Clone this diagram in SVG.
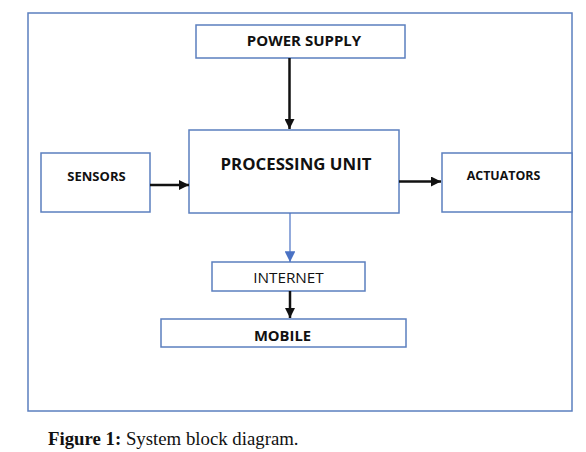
<svg xmlns="http://www.w3.org/2000/svg" width="586" height="452" viewBox="0 0 586 452">
<style>
.box{fill:#fff;stroke:#5b7fbf;stroke-width:1.5}
.lbl{font-family:"Open Sans","Liberation Sans",sans-serif;font-weight:bold;fill:#111;text-anchor:middle}
.blk{stroke:#111;stroke-width:2.5;fill:none}
.blu{stroke:#4a72c4;stroke-width:1.2;fill:none}
</style>
<defs>
<marker id="ah" viewBox="0 0 10 10" refX="10" refY="5" markerWidth="4" markerHeight="4" orient="auto" markerUnits="strokeWidth"><path d="M0,0 L10,5 L0,10 z" fill="#111"/></marker>
<marker id="ahb" viewBox="0 0 10 10" refX="10" refY="5" markerWidth="9" markerHeight="9" orient="auto" markerUnits="strokeWidth"><path d="M0,0 L10,5 L0,10 z" fill="#4a72c4"/></marker>
</defs>
<rect width="586" height="452" fill="#fff"/>
<rect x="28" y="13" width="544" height="398" fill="none" stroke="#5b7fbf" stroke-width="1.5"/>
<g id="power"><rect class="box" x="196" y="25" width="209" height="33"/><text class="lbl" x="304" y="46" font-size="15">POWER SUPPLY</text></g>
<g id="processing"><rect class="box" x="189" y="130" width="210" height="83"/><text class="lbl" x="296" y="170" font-size="16.8">PROCESSING UNIT</text></g>
<g id="sensors"><rect class="box" x="41" y="153" width="109" height="59"/><text class="lbl" x="96.5" y="181" font-size="13">SENSORS</text></g>
<g id="actuators"><rect class="box" x="442" y="153" width="130" height="59"/><text class="lbl" x="503.5" y="180" font-size="12.4">ACTUATORS</text></g>
<g id="internet"><rect class="box" x="212" y="262" width="153" height="29"/><text class="lbl" x="288.5" y="283" font-size="15.3" style="font-weight:normal">INTERNET</text></g>
<g id="mobile"><rect class="box" x="161" y="319" width="245" height="28"/><text class="lbl" x="282.5" y="341" font-size="14.8">MOBILE</text></g>
<g id="connectors">
<line class="blk" x1="289.5" y1="58" x2="289.5" y2="129" marker-end="url(#ah)"/>
<line class="blk" x1="150" y1="185" x2="189" y2="185" marker-end="url(#ah)"/>
<line class="blk" x1="399" y1="181.5" x2="441" y2="181.5" marker-end="url(#ah)"/>
<line class="blu" x1="290" y1="213" x2="290" y2="262" marker-end="url(#ahb)"/>
<line class="blk" x1="290" y1="291" x2="290" y2="318" marker-end="url(#ah)"/>
</g>
<text x="48" y="445" font-family="'Liberation Serif',serif" font-size="18.8" fill="#111"><tspan font-weight="bold">Figure 1:</tspan> System block diagram.</text>
</svg>
